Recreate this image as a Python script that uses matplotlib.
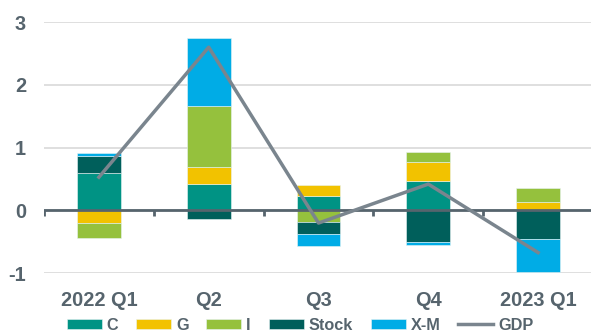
import matplotlib
matplotlib.use('Agg')
import matplotlib.pyplot as plt
import numpy as np

plt.rcParams['font.family'] = ['Liberation Sans', 'DejaVu Sans']
plt.rcParams['font.weight'] = 'bold'

quarters = ['2022 Q1', 'Q2', 'Q3', 'Q4', '2023 Q1']
components = ['C', 'G', 'I', 'Stock', 'X-M']
c_vals = [0.59, 0.42, 0.23, 0.465, 0.0]
g_vals = [-0.20, 0.27, 0.17, 0.31, 0.14]
i_vals = [-0.24, 0.98, -0.18, 0.15, 0.22]
stock_vals = [0.28, -0.14, -0.20, -0.50, -0.46]
xm_vals = [0.04, 1.07, -0.18, -0.05, -0.52]
gdp_vals = [0.53, 2.60, -0.20, 0.42, -0.67]

colors = ['#009384', '#f2c200', '#95c13d', '#005f5b', '#00ace6']
text_color = '#56646d'

fig = plt.figure(figsize=(5.91, 3.34), dpi=100)
ax = fig.add_axes([44 / 591, 0.1817, 549 / 591, 0.7523])

x = np.arange(len(quarters))
series = [c_vals, g_vals, i_vals, stock_vals, xm_vals]
pos_base = np.zeros(len(quarters))
neg_base = np.zeros(len(quarters))
for name, vals, col in zip(components, series, colors):
    vals = np.array(vals)
    base = np.where(vals >= 0, pos_base, neg_base)
    ax.bar(x, vals, width=0.4, bottom=base, color=col, label=name,
           edgecolor='#e8f4f4', linewidth=0.4, zorder=2)
    pos_base = pos_base + np.where(vals >= 0, vals, 0)
    neg_base = neg_base + np.where(vals < 0, vals, 0)

ax.plot(x, gdp_vals, color='#7a858e', lw=2.5, label='GDP', zorder=4)

# zero line and category separator ticks
ax.axhline(0, color='#56646d', lw=2, zorder=3)
ax.vlines(np.arange(len(quarters) + 1) - 0.5, -0.08, 0, color='#56646d', lw=2, zorder=3)

ax.set_xlim(-0.5, len(quarters) - 0.5)
ax.set_ylim(-1, 3)
ax.set_yticks([-1, 0, 1, 2, 3])
ax.set_yticklabels(['-1', '0', '1', '2', '3'])
ax.set_xticks(x)
ax.set_xticklabels(quarters)
ax.tick_params(axis='both', length=0, labelsize=14.4, labelcolor=text_color)
ax.tick_params(axis='x', pad=13)
ax.tick_params(axis='y', pad=13)
ax.grid(axis='y', color='#d9d9d9', lw=1.2, zorder=0)
ax.set_axisbelow(True)
for s in ax.spines.values():
    s.set_visible(False)

handles, labels = ax.get_legend_handles_labels()
order = [1, 2, 3, 4, 5, 0]
leg = fig.legend([handles[i] for i in order], [labels[i] for i in order],
                 loc='center', bbox_to_anchor=(300 / 591, 9 / 334), ncol=6,
                 frameon=False, fontsize=11.7, handlelength=2.15,
                 handleheight=0.55, handletextpad=0.3, columnspacing=1.1,
                 borderpad=0)
for t in leg.get_texts():
    t.set_color(text_color)

fig.savefig('out.png', dpi=100)
